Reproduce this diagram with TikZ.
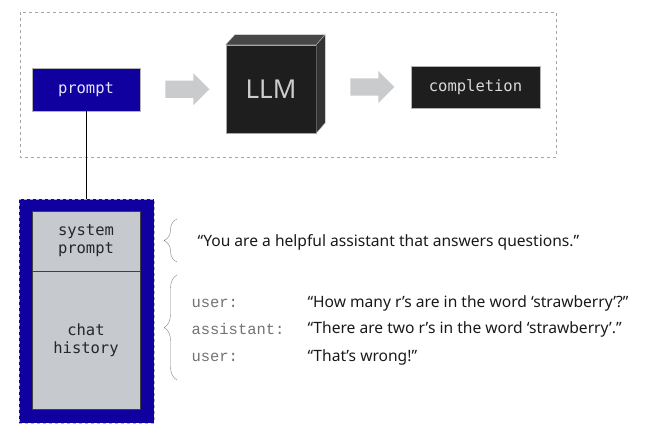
\documentclass[tikz,border=0pt]{standalone}
\usepackage{fontspec}
\setmainfont{Noto Sans}
\setmonofont{DejaVu Sans Mono}
\newfontfamily\rolefont{Liberation Mono}
\usepackage{xcolor}
\usetikzlibrary{arrows.meta,positioning,shapes.arrows,decorations.pathreplacing,calc}
\definecolor{promptblue}{HTML}{1100A0}
\definecolor{boxgray}{HTML}{C6C9CD}
\definecolor{arrowgray}{HTML}{C9CBCD}
\definecolor{cubefront}{HTML}{1E1E1E}

\begin{document}
\begin{tikzpicture}[
x=1pt, y=-1pt,
box/.style={draw=gray!60, minimum width=108pt, minimum height=43pt, align=center, font=\ttfamily\fontsize{15.5}{18}\selectfont},
blockarrow/.style={single arrow, fill=arrowgray, minimum height=44pt, minimum width=32pt, single arrow head extend=7pt, inner sep=8pt},
part/.style={draw=black!75, fill=boxgray, minimum width=108pt, align=center, font=\ttfamily\fontsize{15.5}{18}\selectfont, text=black!85},
brc/.style={decorate, decoration={brace, amplitude=13pt}, draw=black!50, thin},
msg/.style={anchor=west, font=\fontsize{15.6}{19}\selectfont, text=black!90},
role/.style={anchor=west, font=\rolefont\fontsize{15.5}{18}\selectfont, text=black!55}
]
\useasboundingbox (0,0) rectangle (650,443);

% pipeline
\draw[gray!70, dashed] (20,12) rectangle (556,157);
\node[box, fill=promptblue, text=blue!10] (prompt) at (86,89.5) {prompt};
\node[box, fill=cubefront, text=white!85!black, minimum width=129pt, minimum height=42pt] (completion) at (475.5,87) {completion};

% LLM cube
\node[draw=gray!70, fill=cubefront, minimum width=90pt, minimum height=88pt, text=gray!40, font=\fontsize{26}{30}\selectfont] (llm) at (271,89) {LLM};
\draw[gray!70, fill=black!72] (llm.north west) -- ++(9,-10) -- ++(90,0) -- ($(llm.north east)$) -- cycle;
\draw[gray!70, fill=black!80] (llm.north east) -- ++(9,-10) -- ++(0,88) -- (llm.south east) -- cycle;

\node[blockarrow] (arrowA) at ($(prompt.east)!0.5!(llm.west)$) {};
\node[blockarrow] (arrowB) at (368,87) {};

% prompt contents
\node[draw=gray!60, dashed, fill=promptblue, minimum width=135pt, minimum height=224pt] (stack) at (86.5,311) {};
\node[part, minimum height=60pt] (sys) at (86,241) {system\\prompt};
\node[part, minimum height=138pt, below=0pt of sys] (hist) {chat\\history};
\draw[semithick] (prompt.south) -- (prompt.south |- stack.north);

% braces and messages
\coordinate (b1top) at (177,219);
\coordinate (b1bot) at (177,262);
\coordinate (b2top) at (177,275);
\coordinate (b2bot) at (177,380);
\draw[brc] (b1bot) -- (b1top);
\draw[brc] (b2bot) -- (b2top);

\node[msg] (sysmsg) at (194,242) {“You are a helpful assistant that answers questions.”};
\node[role] (r1) at (188,303) {user:};
\node[role] (r2) at (188,329) {assistant:};
\node[role] (r3) at (188,357) {user:};
\node[msg] (m1) at (304,303) {“How many r’s are in the word ‘strawberry’?”};
\node[msg] (m2) at (304,329) {“There are two r’s in the word ‘strawberry’.”};
\node[msg] (m3) at (304,357) {“That’s wrong!”};
\end{tikzpicture}
\end{document}
